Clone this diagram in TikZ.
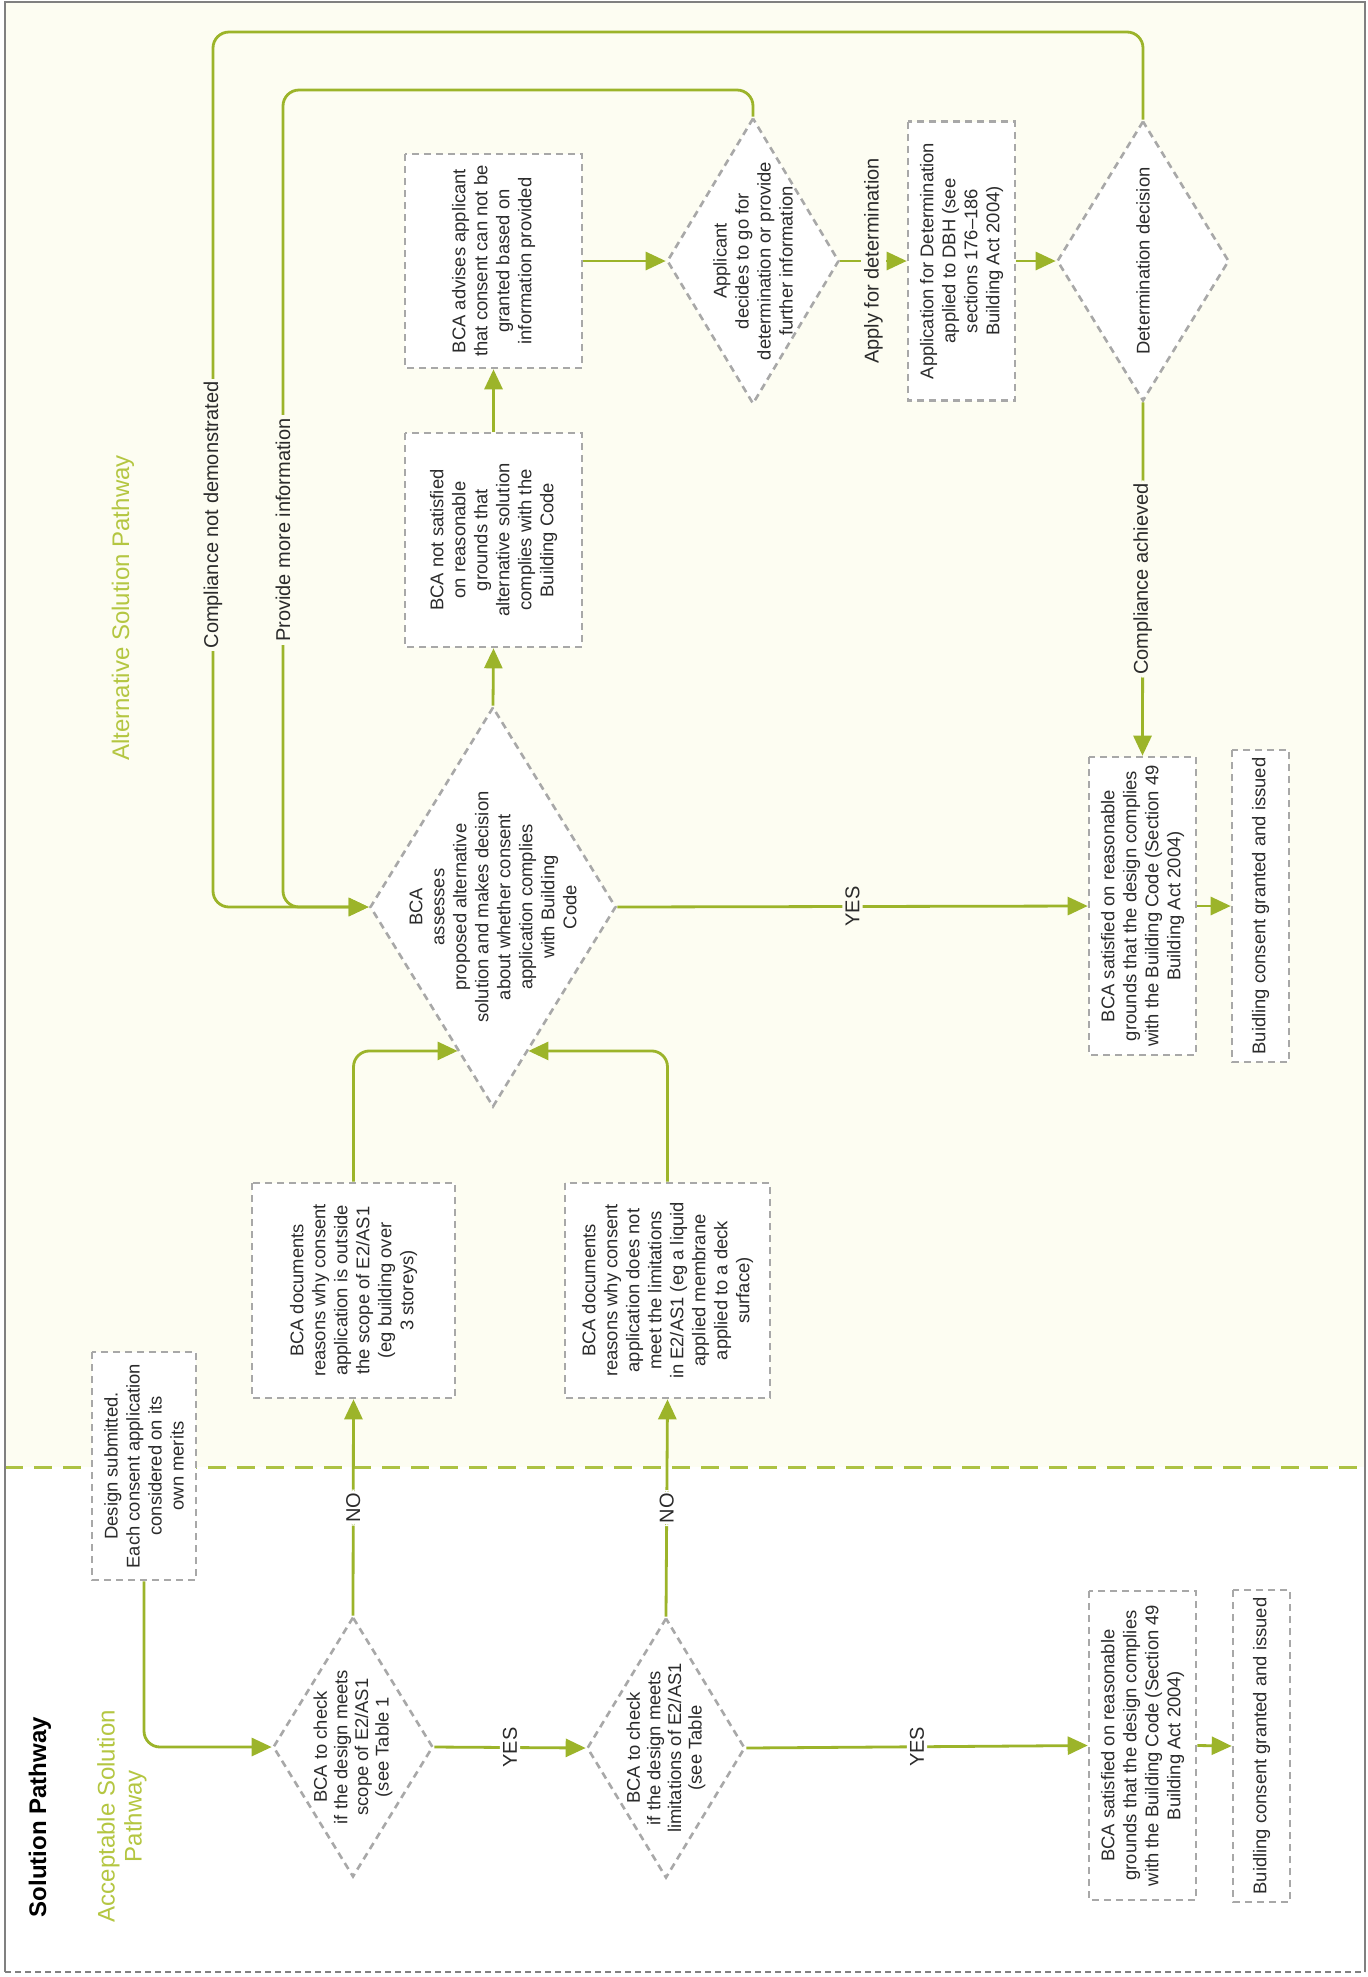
\documentclass[tikz,border=0pt]{standalone}
\usepackage{fontspec}
\setmainfont{Liberation Sans}
\usetikzlibrary{arrows.meta,shapes.geometric,calc}
\definecolor{lgreen}{HTML}{9CB42A}
\definecolor{hgreen}{HTML}{B4C641}
\definecolor{sepgreen}{HTML}{ADC243}
\definecolor{bgray}{HTML}{A8A8A8}
\definecolor{cream}{HTML}{FDFDF2}
\definecolor{tcol}{HTML}{2B2B2B}
\newcommand\myboxfont{\fontsize{9.2}{11}\selectfont}
\newcommand\mydiafont{\fontsize{9.2}{10.3}\selectfont}
\newcommand\mylabfont{\fontsize{10}{12}\selectfont}
\newcommand\myheadfont{\fontsize{12}{13.5}\selectfont}
\begin{document}
\begin{tikzpicture}[x=0.5pt,y=-0.5pt,
  box/.style={draw=bgray, line width=1.3pt, dash pattern=on 3.5pt off 2.5pt, fill=white, rotate=90, inner sep=0pt, align=center, font=\myboxfont, text=tcol},
  dia/.style={draw=bgray, line width=1.3pt, dash pattern=on 3.5pt off 2.5pt, fill=white, shape=diamond, rotate=90, inner sep=0pt},
  dtext/.style={rotate=90, inner sep=0pt, align=center, font=\mydiafont, text=tcol},
  conn/.style={draw=lgreen, line width=1.4pt, rounded corners=8pt, -{Triangle[length=10pt,width=9pt]}},
  lab/.style={rotate=90, inner sep=1.5pt, font=\mylabfont, text=tcol},
  head/.style={rotate=90, inner sep=0pt, align=center, font=\myheadfont, text=hgreen},
]
\useasboundingbox (0,0) rectangle (1367,1977);
% backgrounds
\fill[white] (0,0) rectangle (1367,1977);
\fill[cream] (5,2) rectangle (1365,1467);
\draw[sepgreen, line width=1.5pt, dash pattern=on 9pt off 5.5pt] (5,1467) -- (1365,1467);
\draw[gray, line width=1pt] (5,1972) -- (5,2) -- (1365,2) -- (1365,1972);
\draw[gray, line width=0.8pt, dash pattern=on 3pt off 2pt] (5,1972) -- (1365,1972);

% headings
\node[rotate=90, inner sep=0pt, font=\bfseries\myheadfont, text=black] (title) at (40,1817) {Solution Pathway};
\node[head] (hacc) at (122,1816) {Acceptable Solution\\Pathway};
\node[head] (halt) at (123,608) {Alternative Solution Pathway};

% boxes
\node[box, minimum width=114pt, minimum height=52pt] (dsub) at (144,1466) {Design submitted.\\Each consent application\\considered on its\\own merits};
\node[box, minimum width=107.5pt, minimum height=101.5pt] (doc1) at (353.5,1290.5) {BCA documents\\reasons why consent\\application is outside\\the scope of E2/AS1\\(eg building over\\3 storeys)};
\node[box, minimum width=107.5pt, minimum height=102.5pt] (doc2) at (667.5,1290.5) {BCA documents\\reasons why consent\\application does not\\meet the limitations\\in E2/AS1 (eg a liquid\\applied membrane\\applied to a deck\\surface)};
\node[box, minimum width=154.5pt, minimum height=53.5pt] (sat1) at (1142.5,1745.5) {BCA satisfied on reasonable\\grounds that the design complies\\with the Building Code (Section 49\\Building Act 2004)};
\node[box, minimum width=156pt, minimum height=28.5pt] (bld1) at (1261.5,1746) {Buidling consent granted and issued};
\node[box, minimum width=149pt, minimum height=53.5pt] (sat2) at (1142.5,906) {BCA satisfied on reasonable\\grounds that the design complies\\with the Building Code (Section 49\\Building Act 2004)};
\node[box, minimum width=156pt, minimum height=28.5pt] (bld2) at (1260.5,906) {Buidling consent granted and issued};
\node[box, minimum width=107pt, minimum height=88.5pt] (nsat) at (493.5,540) {BCA not satisfied\\on reasonable\\grounds that\\alternative solution\\complies with the\\Building Code};
\node[box, minimum width=107pt, minimum height=88.5pt] (adv) at (493.5,261) {BCA advises applicant\\that consent can not be\\granted based on\\information provided};
\node[box, minimum width=139.5pt, minimum height=53.5pt] (appl) at (961.5,261) {Application for Determination\\applied to DBH (see\\sections 176–186\\Building Act 2004)};

% diamonds
\node[dia, minimum width=130pt, minimum height=80pt] (dia1) at (353,1747) {};
\node[dtext] (dia1t) at (dia1) {BCA to check\\if the design meets\\scope of E2/AS1\\(see Table 1};
\node[dia, minimum width=130pt, minimum height=79pt] (dia2) at (666,1748) {};
\node[dtext] (dia2t) at (dia2) {BCA to check\\if the design meets\\limitations of E2/AS1\\(see Table};
\node[dia, minimum width=200pt, minimum height=123pt] (dbig) at (493,907) {};
\node[dtext, font=\myboxfont] (dbigt) at (dbig) {BCA\\assesses\\proposed alternative\\solution and makes decision\\about whether consent\\application complies\\with Building\\Code};
\node[dia, minimum width=143pt, minimum height=86pt] (dapp) at (753,261) {};
\node[dtext, font=\myboxfont] (dappt) at (dapp) {Applicant\\decides to go for\\determination or provide\\further information};
\node[dia, minimum width=140pt, minimum height=86pt] (ddet) at (1143,261) {};
\node[dtext] (ddett) at (ddet) {Determination decision};

% helper coordinates
\coordinate (cnd) at (213,32);
\coordinate (cpm) at (283,90);
\coordinate (p1) at ($(dbig.north)!0.715!(dbig.west)$);
\coordinate (p2) at ($(dbig.south)!0.715!(dbig.west)$);

% connectors
\draw[conn] (dsub.west) |- (dia1.north);
\draw[conn] (dia1.south) -- node[lab, fill=white] (y1) {YES} (dia2.north);
\draw[conn] (dia1.east) -- node[lab, fill=white] (n1) {NO} (doc1.west);
\draw[conn] (dia2.east) -- node[lab, fill=white] (n2) {NO} (doc2.west);
\draw[conn] (dia2.south) -- node[lab, fill=white] (y2) {YES} (sat1.north);
\draw[conn] (sat1.south) -- (bld1.north);
\draw[conn] (doc1.east) |- (p1);
\draw[conn] (doc2.east) |- (p2);
\draw[conn] (dbig.south) -- node[lab, fill=cream] (y3) {YES} (sat2.north);
\draw[conn] (sat2.south) -- (bld2.north);
\draw[conn] (dbig.east) -- (nsat.west);
\draw[conn] (nsat.east) -- (adv.west);
\draw[conn] (adv.south) -- (dapp.north);
\draw[conn] (dapp.south) -- node[lab, fill=cream] (lapp) {Apply for determination} (appl.north);
\draw[conn] (appl.south) -- (ddet.north);
\draw[conn] (ddet.west) -- node[lab, fill=cream] (lca) {Compliance achieved} (sat2.east);
\draw[conn] (ddet.east) |- (cnd) |- (dbig.north);
\draw[conn] (dapp.east) |- (cpm) |- (dbig.north);
\node[lab, fill=cream] (lcnd) at (213,515) {Compliance not demonstrated};
\node[lab, fill=cream] (lpmi) at (283,530) {Provide more information};
\end{tikzpicture}
\end{document}
